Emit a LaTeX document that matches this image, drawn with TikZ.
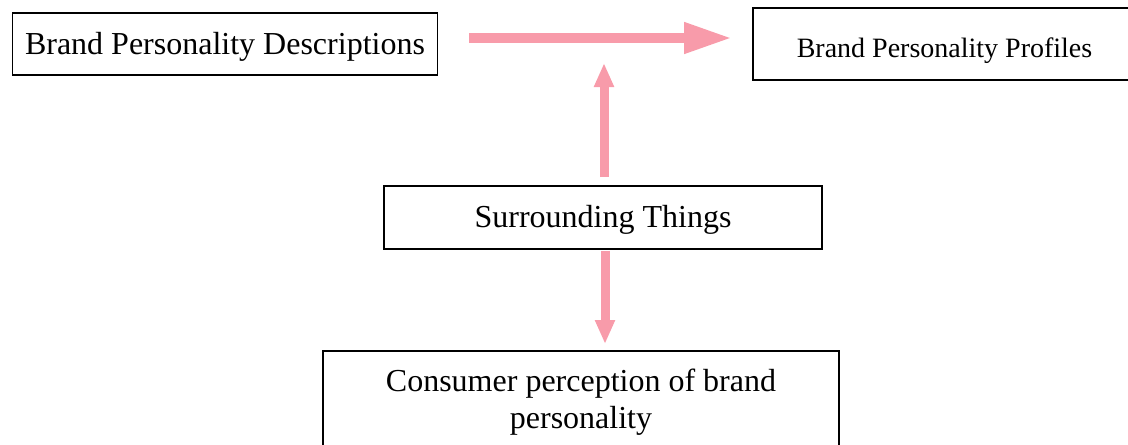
\documentclass[tikz,border=0pt]{standalone}
\usepackage{fontspec}
\setmainfont{Liberation Serif}
\usetikzlibrary{arrows.meta}
\definecolor{flowpink}{RGB}{248,155,170}

\begin{document}
\begin{tikzpicture}[x=.75pt,y=-.75pt,
  box/.style={draw,line width=1.3pt,inner sep=0pt,font=\fontsize{24}{27.6}\selectfont},
  low/.style={text height=21pt,text depth=5.3pt},
  flow/.style={flowpink,line width=6.75pt,-{Triangle[length=18pt,width=14pt]}}]
\useasboundingbox (0,0) rectangle (1128,444);
%
\node[box,low,minimum width=425*.75pt,minimum height=62*.75pt] (descriptions) at (225,44) {Brand Personality Descriptions};
\node[box,minimum width=383*.75pt,minimum height=72*.75pt] (profiles) at (944.5,44) {};
\node[font=\fontsize{21}{24}\selectfont] (profilestext) at (944.5,51) {Brand Personality Profiles};
\node[box,low,minimum width=438*.75pt,minimum height=63*.75pt] (things) at (603,217.5) {Surrounding Things};
\node[box,minimum width=516*.75pt,align=center,inner ysep=13.5pt,anchor=north] (consumer) at (581,350)
  {Consumer perception of brand\\personality};
\coordinate (meet) at (604,63);
%
\draw[flow,line width=7.5pt,-{Triangle[length=36pt,width=21.75pt]},shorten <=31*.75pt,shorten >=20*.75pt]
  ([yshift=4.5pt]descriptions.east) -- ([yshift=4.5pt]profiles.west);
\draw[flow,shorten <=8*.75pt] ([xshift=.75pt]things.north) -- (meet);
\draw[flow,shorten <=.75pt,shorten >=6*.75pt] ([xshift=1.5pt]things.south) -- ([xshift=18pt]consumer.north);
\end{tikzpicture}
\end{document}
